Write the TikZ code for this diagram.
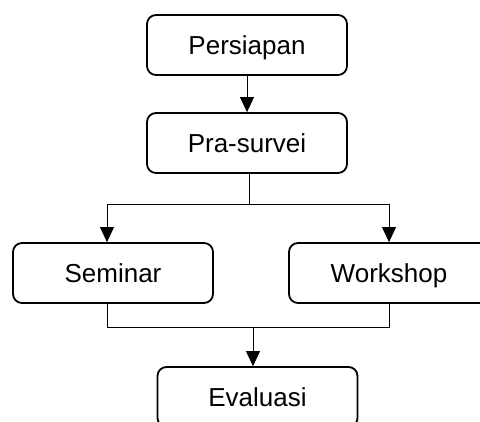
\documentclass[tikz,border=0pt]{standalone}
\usepackage{fontspec}
\setmainfont{Liberation Sans}
\usetikzlibrary{arrows.meta,calc}
\tikzset{
  stage/.style={
    rectangle,
    rounded corners=9pt,
    minimum width=200pt,
    minimum height=60pt,
    align=center,
    draw=black,
    line width=1.8pt,
    text height=19pt,
    text depth=0pt,
    font=\fontsize{26}{30}\selectfont
    },
  arrow/.style={line width=1pt,-{Triangle[length=15pt,width=14pt]}},
  link/.style={line width=1pt},
}

\begin{document}
\begin{tikzpicture}[x=1pt,y=-1pt]
    \useasboundingbox (0,0) rectangle (480,422);
    \clip (0,0) rectangle (480,422);

    % the stages
    \node[stage] (pers) at (247,45) {Persiapan};
    \node[stage] (pra) at (247,143) {Pra-survei};
    \node[stage] (sem) at (113,273) {Seminar};
    \node[stage] (work) at (389,273) {Workshop};
    \node[stage] (eval) at (257.5,397) {Evaluasi};

    % split after the pre-survey
    \coordinate (split) at (249,205);
    \draw[arrow] (pers) -- (pra);
    \draw[link] (split |- pra.south) -- (split);
    \draw[arrow] (split) -| ([xshift=-6pt]sem.north);
    \draw[arrow] (split) -| (work.north);

    % merge into the evaluation
    \coordinate (merge) at (253,328);
    \draw[link] ([xshift=-6pt]sem.south) |- (work.south |- merge) -- (work.south);
    \draw[arrow] (merge) -- (merge |- eval.north);
\end{tikzpicture}
\end{document}
